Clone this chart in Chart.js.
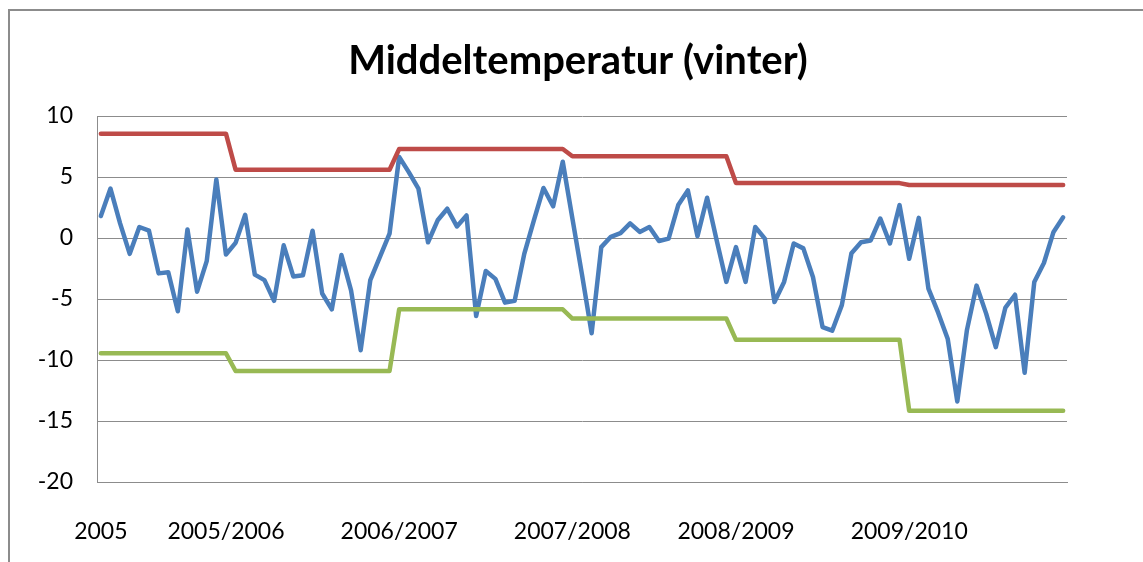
<!DOCTYPE html>
<html>
<head>
<meta charset="utf-8">
<script src="https://cdn.jsdelivr.net/npm/chart.js@4/dist/chart.umd.min.js"></script>
<style>
  body { margin: 0; background: #fff; overflow: hidden; }
  #wrap { position: relative; width: 1143px; height: 562px; }
  #frame { position: absolute; left: 8px; top: 9px; width: 1300px; height: 700px;
           border-left: 2px solid #8c8c8c; border-top: 2px solid #8c8c8c; pointer-events: none; }
  canvas { position: absolute; left: 0; top: 0; }
</style>
</head>
<body>
<div id="wrap">
  <div id="frame"></div>
  <canvas id="graphCanvas" width="1143" height="562"></canvas>
</div>
<script>
// Title and axis labels
const chartTitle = "Middeltemperatur (vinter)";
const tickLabels = ["2005", "2005/2006", "2006/2007", "2007/2008", "2008/2009", "2009/2010"];
const tickIndex = [0, 13, 31, 49, 66, 84];
const yTicks = [10, 5, 0, -5, -10, -15, -20];

// Measured mean temperature (blue)
const middel = [
    1.8, 4.05, 1.2, -1.3, 0.9, 0.6, -2.9, -2.8, -6.0, 0.7,
    -4.4, -1.9, 4.8, -1.35, -0.4, 1.9, -3.0, -3.45, -5.15, -0.6,
    -3.15, -3.05, 0.6, -4.55, -5.85, -1.4, -4.3, -9.2, -3.45, -1.55,
    0.35, 6.65, 5.4, 4.05, -0.35, 1.45, 2.4, 0.95, 1.85, -6.4,
    -2.7, -3.35, -5.3, -5.15, -1.3, 1.45, 4.1, 2.6, 6.25, 1.6,
    -3.0, -7.8, -0.75, 0.1, 0.4, 1.2, 0.5, 0.9, -0.25, -0.05,
    2.7, 3.9, 0.15, 3.3, -0.2, -3.6, -0.75, -3.6, 0.9, -0.05,
    -5.25, -3.6, -0.45, -0.85, -3.2, -7.3, -7.6, -5.5, -1.25, -0.35,
    -0.2, 1.6, -0.45, 2.7, -1.7, 1.65, -4.15, -6.1, -8.25, -13.4,
    -7.55, -3.9, -6.2, -8.95, -5.7, -4.65, -11.05, -3.6, -2.05, 0.5,
    1.7
];

// Season maximum (red)
const maks = [
    8.55, 8.55, 8.55, 8.55, 8.55, 8.55, 8.55, 8.55, 8.55, 8.55,
    8.55, 8.55, 8.55, 8.55, 5.6, 5.6, 5.6, 5.6, 5.6, 5.6,
    5.6, 5.6, 5.6, 5.6, 5.6, 5.6, 5.6, 5.6, 5.6, 5.6,
    5.6, 7.3, 7.3, 7.3, 7.3, 7.3, 7.3, 7.3, 7.3, 7.3,
    7.3, 7.3, 7.3, 7.3, 7.3, 7.3, 7.3, 7.3, 7.3, 6.7,
    6.7, 6.7, 6.7, 6.7, 6.7, 6.7, 6.7, 6.7, 6.7, 6.7,
    6.7, 6.7, 6.7, 6.7, 6.7, 6.7, 4.5, 4.5, 4.5, 4.5,
    4.5, 4.5, 4.5, 4.5, 4.5, 4.5, 4.5, 4.5, 4.5, 4.5,
    4.5, 4.5, 4.5, 4.5, 4.35, 4.35, 4.35, 4.35, 4.35, 4.35,
    4.35, 4.35, 4.35, 4.35, 4.35, 4.35, 4.35, 4.35, 4.35, 4.35,
    4.35
];

// Season minimum (green)
const min = [
    -9.45, -9.45, -9.45, -9.45, -9.45, -9.45, -9.45, -9.45, -9.45, -9.45,
    -9.45, -9.45, -9.45, -9.45, -10.9, -10.9, -10.9, -10.9, -10.9, -10.9,
    -10.9, -10.9, -10.9, -10.9, -10.9, -10.9, -10.9, -10.9, -10.9, -10.9,
    -10.9, -5.85, -5.85, -5.85, -5.85, -5.85, -5.85, -5.85, -5.85, -5.85,
    -5.85, -5.85, -5.85, -5.85, -5.85, -5.85, -5.85, -5.85, -5.85, -6.6,
    -6.6, -6.6, -6.6, -6.6, -6.6, -6.6, -6.6, -6.6, -6.6, -6.6,
    -6.6, -6.6, -6.6, -6.6, -6.6, -6.6, -8.35, -8.35, -8.35, -8.35,
    -8.35, -8.35, -8.35, -8.35, -8.35, -8.35, -8.35, -8.35, -8.35, -8.35,
    -8.35, -8.35, -8.35, -8.35, -14.15, -14.15, -14.15, -14.15, -14.15, -14.15,
    -14.15, -14.15, -14.15, -14.15, -14.15, -14.15, -14.15, -14.15, -14.15, -14.15,
    -14.15
];

const FONT = "Lato, 'Open Sans', sans-serif";

function toPoints(arr) {
    return arr.map((v, i) => ({ x: i, y: v }));
}

function lineSet(label, arr, color) {
    return {
        label: label,
        data: toPoints(arr),
        borderColor: color,
        borderWidth: 4.5,
        pointRadius: 0,
        tension: 0,
        fill: false,
        borderJoinStyle: "round",
        borderCapStyle: "round"
    };
}

// Draw the title at a fixed spot above the plot
const titlePlugin = {
    id: "fixedTitle",
    afterDraw(chart) {
        const ctx = chart.ctx;
        ctx.save();
        ctx.font = "bold 40px " + FONT;
        ctx.fillStyle = "#000";
        ctx.textAlign = "center";
        ctx.textBaseline = "alphabetic";
        ctx.fillText(chartTitle, 578, 74);
        ctx.restore();
    }
};

let chartInstance;

function drawChart() {
    const ctx = document.getElementById("graphCanvas").getContext("2d");
    chartInstance = new Chart(ctx, {
        type: "line",
        data: {
            datasets: [
                lineSet("Maks", maks, "#BE4B48"),
                lineSet("Min", min, "#98B954"),
                lineSet("Middel", middel, "#4A7EBB")
            ]
        },
        options: {
            responsive: false,
            animation: false,
            layout: { padding: { left: 0, top: 116, right: 76, bottom: 0 } },
            plugins: {
                legend: { display: false },
                title: { display: false },
                tooltip: { enabled: false }
            },
            scales: {
                x: {
                    type: "linear",
                    min: -0.4,
                    max: 100.4,
                    grid: { display: false },
                    border: { display: true, color: "#8c8c8c", width: 1 },
                    afterBuildTicks(scale) {
                        scale.ticks = tickIndex.map(v => ({ value: v }));
                    },
                    afterFit(scale) { scale.height = 80; },
                    ticks: {
                        autoSkip: false,
                        maxRotation: 0,
                        padding: 28,
                        color: "#000",
                        font: { family: FONT, size: 23 },
                        callback: (v) => tickLabels[tickIndex.indexOf(v)]
                    }
                },
                y: {
                    min: -20,
                    max: 10,
                    afterBuildTicks(scale) {
                        scale.ticks = yTicks.map(v => ({ value: v }));
                    },
                    afterFit(scale) { scale.width = 97; },
                    grid: { color: "#8c8c8c", lineWidth: 1, drawTicks: false },
                    border: { display: true, color: "#8c8c8c", width: 1 },
                    ticks: {
                        padding: 24,
                        color: "#000",
                        font: { family: FONT, size: 23 }
                    }
                }
            }
        },
        plugins: [titlePlugin]
    });
}

window.onload = drawChart;
</script>
</body>
</html>
